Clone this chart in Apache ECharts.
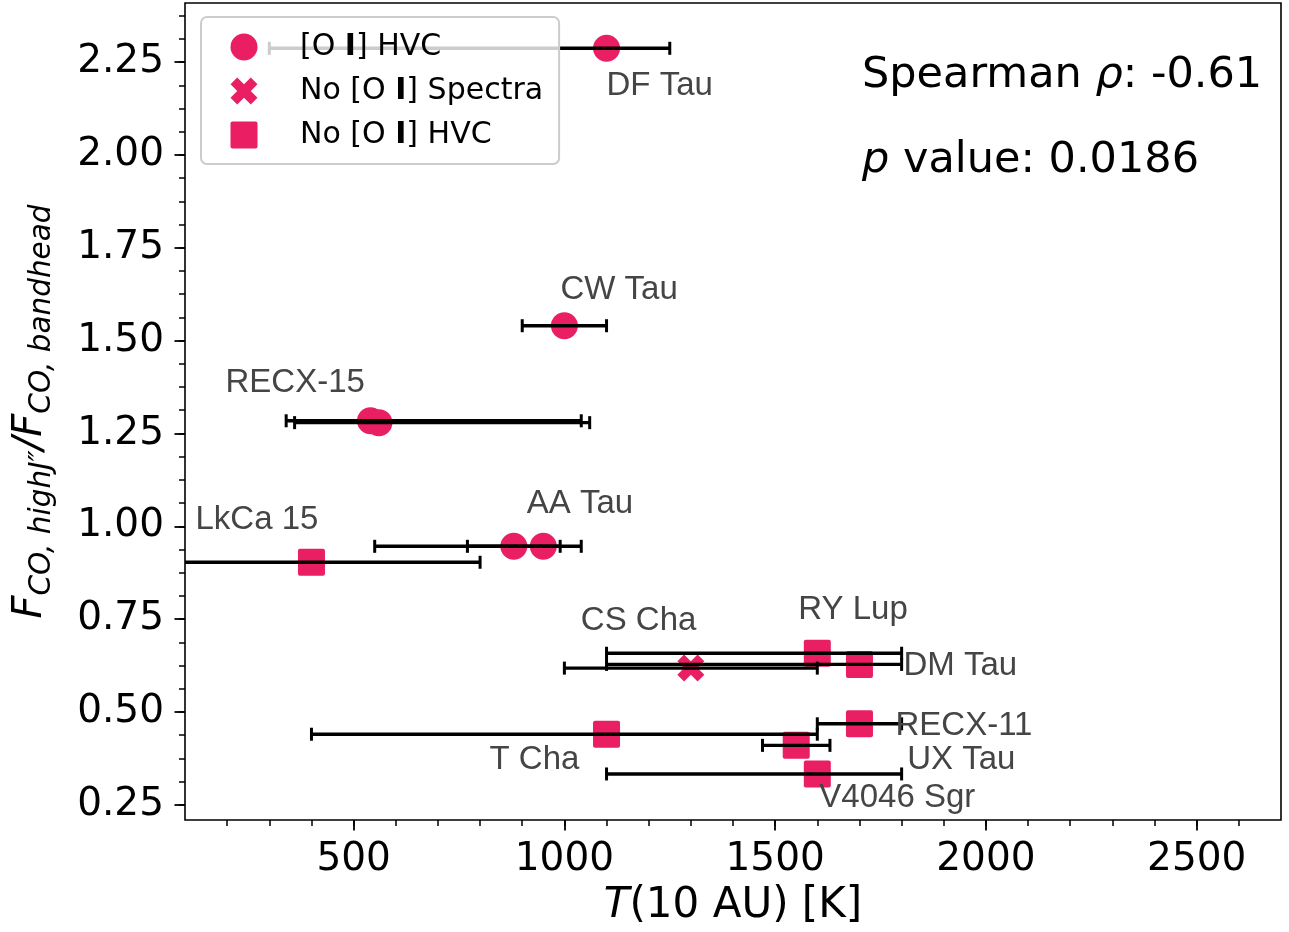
<!DOCTYPE html>
<html><head><meta charset="utf-8">
<script src="https://cdn.jsdelivr.net/npm/echarts@6/dist/echarts.min.js"></script>
<style>html,body{margin:0;padding:0;background:#fff}#c{width:1289px;height:932px}</style>
</head><body><div id="c"></div>
<script>
// ---- data ----
const names  = ['DF Tau','CW Tau','RECX-15','RECX-15','AA Tau','AA Tau','LkCa 15','CS Cha','RY Lup','DM Tau','RECX-11','T Cha','UX Tau','V4046 Sgr'];
const temps  = [1100, 1000, 540, 560, 880, 950, 400, 1300, 1600, 1700, 1700, 1100, 1550, 1600];
const ratios = [2.287, 1.540, 1.284, 1.279, 0.946, 0.946, 0.903, 0.618, 0.658, 0.628, 0.468, 0.440, 0.410, 0.333];
const tLow   = [300, 900, 340, 360, 770, 550, 0, 1000, 1100, 1100, 1600, 400, 1470, 1100];
const tHigh  = [1250, 1100, 1040, 1060, 990, 1040, 800, 1600, 1800, 1800, 1800, 1600, 1630, 1800];
const groups = ['hvc','hvc','hvc','hvc','hvc','hvc','nohvc','nospec','nohvc','nohvc','nohvc','nohvc','nohvc','nohvc'];
const shownLabel = [true, true, true, false, true, false, true, true, true, true, true, true, true, true];
const groupNames = {hvc: '[O I] HVC', nospec: 'No [O I] Spectra', nohvc: 'No [O I] HVC'};
const xMajorTicks = [500, 1000, 1500, 2000, 2500];
const yMajorTicks = [0.25, 0.50, 0.75, 1.00, 1.25, 1.50, 1.75, 2.00, 2.25];
const spearmanRho = '-0.61';
const pValue = '0.0186';

// ---- layout / style (not data) ----
const labelOffsets = [[0,36],[-4,-38],[-145,-40],[0,0],[13,-44],[0,0],[-116,-44],[-110,-49],[-19,-45],[44,0],[36,0],[-117,24],[111,13],[2,22]];
const xMinorTicks = []; for (let v = 200; v <= 2600; v += 100) xMinorTicks.push(v);
const yMinorTicks = []; for (let k = 4; k <= 38; k++) yMinorTicks.push(k * 0.0625);
const PINK = '#E91E63';
const FONT = 'DejaVu Sans';
const SYM = {
  hvc: 'circle',
  nospec: 'path://M1,0 L2,1 L3,0 L4,1 L3,2 L4,3 L3,4 L2,3 L1,4 L0,3 L1,2 L0,1 Z',
  nohvc: 'path://M2,0 L25,0 Q27,0 27,2 L27,25 Q27,27 25,27 L2,27 Q0,27 0,25 L0,2 Q0,0 2,0 Z'
};

const scatterSeries = ['hvc','nospec','nohvc'].map(g => ({
  type: 'scatter', name: groupNames[g], symbol: SYM[g], symbolSize: 27,
  itemStyle: {color: PINK, opacity: 1}, z: 2,
  data: temps.map((t, i) => groups[i] === g ? [t, ratios[i]] : null).filter(d => d)
}));

const errData = temps.map((t, i) => [tLow[i], tHigh[i], ratios[i]]);
const errSeries = {
  type: 'custom', z: 3, silent: true,
  encode: {x: [0, 1], y: 2},
  data: errData,
  renderItem(params, api) {
    const cs = params.coordSys;
    const lo = api.coord([api.value(0), api.value(2)]);
    const hi = api.coord([api.value(1), api.value(2)]);
    const st = {stroke: '#000', lineWidth: 3.4};
    const cst = {stroke: '#000', lineWidth: 3};
    const x0 = Math.max(lo[0], cs.x), x1 = Math.min(hi[0], cs.x + cs.width);
    const ch = [{type: 'line', shape: {x1: x0, y1: lo[1], x2: x1, y2: lo[1]}, style: st}];
    if (lo[0] >= cs.x) ch.push({type: 'line', shape: {x1: lo[0], y1: lo[1] - 6.5, x2: lo[0], y2: lo[1] + 6.5}, style: cst});
    if (hi[0] <= cs.x + cs.width) ch.push({type: 'line', shape: {x1: hi[0], y1: hi[1] - 6.5, x2: hi[0], y2: hi[1] + 6.5}, style: cst});
    return {type: 'group', children: ch};
  }
};

const labelSeries = {
  type: 'custom', z: 4, silent: true,
  encode: {x: 0, y: 1},
  data: temps.map((t, i) => [t, ratios[i], i]),
  renderItem(params, api) {
    const i = api.value(2);
    if (!shownLabel[i]) return null;
    const p = api.coord([api.value(0), api.value(1)]);
    return {type: 'text', x: p[0] + labelOffsets[i][0], y: p[1] + labelOffsets[i][1] + 2,
      style: {text: names[i], fill: '#454545', font: '33px "Liberation Sans"', align: 'left', verticalAlign: 'middle'}};
  }
};

const GRID = {left: 185, right: 8, top: 3, bottom: 111.5};
const chart = echarts.init(document.getElementById('c'), null, {renderer: 'canvas'});
chart.setOption({
  animation: false,
  backgroundColor: '#fff',
  grid: [{...GRID, show: true, borderColor: '#000', borderWidth: 1.6, backgroundColor: 'transparent'}],
  xAxis: [
    {type: 'value', min: 100, max: 2700, position: 'bottom', gridIndex: 0,
     axisLine: {show: false, onZero: false}, splitLine: {show: false},
     axisTick: {show: true, customValues: xMajorTicks, length: 10.5, lineStyle: {color: '#000', width: 1.8}},
     axisLabel: {show: true, customValues: xMajorTicks, margin: 20, color: '#000', fontSize: 39, fontFamily: FONT,
       formatter: v => String(v)},
     name: '{i|T}(10 AU) [K]', nameLocation: 'middle', nameGap: 65,
     nameTextStyle: {color: '#000', fontSize: 42, fontFamily: FONT,
       rich: {i: {fontStyle: 'italic', fontSize: 42, fontFamily: FONT, color: '#000'}}}},
    {type: 'value', min: 100, max: 2700, position: 'bottom', gridIndex: 0,
     axisLine: {show: false, onZero: false}, splitLine: {show: false}, axisLabel: {show: false},
     axisTick: {show: true, customValues: xMinorTicks, length: 6, lineStyle: {color: '#000', width: 1.5}}}
  ],
  yAxis: [
    {type: 'value', min: 0.209, max: 2.409, position: 'left', gridIndex: 0,
     axisLine: {show: false, onZero: false}, splitLine: {show: false},
     axisTick: {show: true, customValues: yMajorTicks, length: 10.5, lineStyle: {color: '#000', width: 1.8}},
     axisLabel: {show: true, customValues: yMajorTicks, margin: 21, color: '#000', fontSize: 39, fontFamily: FONT,
       formatter: v => v.toFixed(2)},
     name: '{f|F}{s|CO, highJ″}{f|/F}{s|CO, bandhead}', nameLocation: 'middle', nameGap: 128,
     nameTextStyle: {color: '#000', rich: {
       f: {fontSize: 40, fontStyle: 'italic', fontFamily: FONT, lineHeight: 52, color: '#000'},
       s: {fontSize: 29.5, fontStyle: 'italic', fontFamily: FONT, lineHeight: 31, verticalAlign: 'bottom', color: '#000'}}}},
    {type: 'value', min: 0.209, max: 2.409, position: 'left', gridIndex: 0,
     axisLine: {show: false, onZero: false}, splitLine: {show: false}, axisLabel: {show: false},
     axisTick: {show: true, customValues: yMinorTicks, length: 6, lineStyle: {color: '#000', width: 1.5}}}
  ],
  legend: {
    orient: 'vertical', left: 201, top: 17, z: 10,
    padding: [15, 16, 14, 29.5], itemGap: 14, itemWidth: 27, itemHeight: 27,
    backgroundColor: 'rgba(255,255,255,0.8)', borderColor: '#cccccc', borderWidth: 2, borderRadius: 6,
    data: ['[O I] HVC', 'No [O I] Spectra', 'No [O I] HVC'],
    formatter: n => '{g|}' + n.replace(' I]', ' {b|I}]'),
    textStyle: {color: '#000', fontSize: 30, fontFamily: FONT, lineHeight: 30,
      rich: {g: {width: 37.5}, b: {fontWeight: 'bold', fontSize: 30, fontFamily: FONT, color: '#000'}}}
  },
  graphic: [
    {type: 'text', left: 862, top: 54, z: 20,
     style: {text: 'Spearman {i|ρ}: ' + spearmanRho, fill: '#000', font: '43px "DejaVu Sans"',
       rich: {i: {fontStyle: 'italic', fontSize: 43, fontFamily: FONT, fill: '#000'}}}},
    {type: 'text', left: 862, top: 139, z: 20,
     style: {text: '{i|p} value: ' + pValue, fill: '#000', font: '43px "DejaVu Sans"',
       rich: {i: {fontStyle: 'italic', fontSize: 43, fontFamily: FONT, fill: '#000'}}}}
  ],
  series: [...scatterSeries, errSeries, labelSeries]
});
</script></body></html>
